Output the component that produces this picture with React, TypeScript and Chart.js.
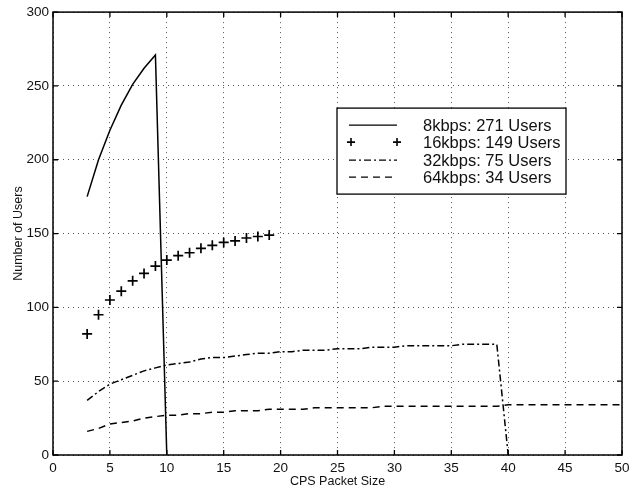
import React, { useEffect, useRef } from "react";
import { Chart, registerables } from "chart.js";

Chart.register(...registerables);

// ---- data ----
const x8 = [3, 4, 5, 6, 7, 8, 9, 10];
const users8 = [175, 200, 220, 237, 251, 262, 271, 0];

const x16 = [3, 4, 5, 6, 7, 8, 9, 10, 11, 12, 13, 14, 15, 16, 17, 18, 19];
const users16 = [82, 95, 105, 111, 118, 123, 128, 132, 135, 137, 140, 142, 144, 145, 147, 148, 149];

const x32 = [3, 4, 5, 6, 7, 8, 9, 10, 11, 12, 13, 14, 15, 16, 17, 18, 19, 20, 21, 22, 23, 24, 25, 26, 27, 28, 29, 30, 31, 32, 33, 34, 35, 36, 37, 38, 39, 40];
const users32 = [37, 43, 48, 51, 54, 57, 59, 61, 62, 63, 65, 66, 66, 67, 68, 69, 69, 70, 70, 71, 71, 71, 72, 72, 72, 73, 73, 73, 74, 74, 74, 74, 74, 75, 75, 75, 75, 0];

const x64 = [3, 4, 5, 6, 7, 8, 9, 10, 11, 12, 13, 14, 15, 16, 17, 18, 19, 20, 21, 22, 23, 24, 25, 26, 27, 28, 29, 30, 31, 32, 33, 34, 35, 36, 37, 38, 39, 40, 41, 42, 43, 44, 45, 46, 47, 48, 49, 50];
const users64 = [16, 18, 21, 22, 23, 25, 26, 27, 27, 28, 28, 29, 29, 30, 30, 30, 31, 31, 31, 31, 32, 32, 32, 32, 32, 32, 33, 33, 33, 33, 33, 33, 33, 33, 33, 33, 33, 34, 34, 34, 34, 34, 34, 34, 34, 34, 34, 34];

const legendLabels = ["8kbps: 271 Users", "16kbps: 149 Users", "32kbps: 75 Users", "64kbps: 34 Users"];
const xTicks = [0, 5, 10, 15, 20, 25, 30, 35, 40, 45, 50];
const yTicks = [0, 50, 100, 150, 200, 250, 300];

const FONT = "'Liberation Sans', Arial, Helvetica, sans-serif";

const pts = (xs: number[], ys: number[]) => xs.map((x, i) => ({ x, y: ys[i] }));

const framePlugin = {
  id: "frame",
  afterDatasetsDraw(chart: any) {
    const { ctx, chartArea: a, scales } = chart;
    ctx.save();
    ctx.strokeStyle = "#000";
    ctx.lineWidth = 1.5;
    ctx.setLineDash([]);
    ctx.strokeRect(a.left, a.top, a.right - a.left, a.bottom - a.top);
    ctx.lineWidth = 1.3;
    const L = 5;
    ctx.beginPath();
    xTicks.forEach((v) => {
      const px = scales.x.getPixelForValue(v);
      ctx.moveTo(px, a.bottom);
      ctx.lineTo(px, a.bottom - L);
      ctx.moveTo(px, a.top);
      ctx.lineTo(px, a.top + L);
    });
    yTicks.forEach((v) => {
      const py = scales.y.getPixelForValue(v);
      ctx.moveTo(a.left, py);
      ctx.lineTo(a.left + L, py);
      ctx.moveTo(a.right, py);
      ctx.lineTo(a.right - L, py);
    });
    ctx.stroke();

    // legend box
    const bx = a.left + 284;
    const by = a.top + 96;
    const bw = 229;
    const bh = 86;
    ctx.fillStyle = "#fff";
    ctx.fillRect(bx, by, bw, bh);
    ctx.lineWidth = 1.3;
    ctx.strokeStyle = "#000";
    ctx.strokeRect(bx, by, bw, bh);
    const rowY = [17, 34, 52, 69];
    const dashes = [[], [], [7, 3, 2, 3], [7, 5]];
    ctx.font = `16.5px ${FONT}`;
    ctx.textBaseline = "middle";
    ctx.textAlign = "left";
    rowY.forEach((ry, i) => {
      const y = by + ry;
      ctx.lineWidth = 1.4;
      if (i === 1) {
        [bx + 14, bx + 60].forEach((cx) => {
          ctx.beginPath();
          ctx.setLineDash([]);
          ctx.moveTo(cx - 4, y);
          ctx.lineTo(cx + 4, y);
          ctx.moveTo(cx, y - 4);
          ctx.lineTo(cx, y + 4);
          ctx.lineWidth = 1.6;
          ctx.stroke();
        });
      } else {
        ctx.beginPath();
        ctx.setLineDash(dashes[i]);
        ctx.moveTo(bx + 12, y);
        ctx.lineTo(bx + 60, y);
        ctx.stroke();
        ctx.setLineDash([]);
      }
      ctx.fillStyle = "#111";
      ctx.fillText(legendLabels[i], bx + 86, y + 1);
    });
    ctx.restore();
  },
};

export default function App() {
  const ref = useRef<HTMLCanvasElement>(null);
  useEffect(() => {
    if (!ref.current) return;
    const chart = new Chart(ref.current, {
      type: "line",
      data: {
        datasets: [
          {
            label: legendLabels[0],
            data: pts(x8, users8),
            borderColor: "#000",
            borderWidth: 1.5,
            pointRadius: 0,
            tension: 0,
          },
          {
            label: legendLabels[1],
            data: pts(x16, users16),
            showLine: false,
            borderColor: "#000",
            pointStyle: "cross",
            pointRadius: 5,
            pointBorderWidth: 1.7,
            pointBorderColor: "#000",
          },
          {
            label: legendLabels[2],
            data: pts(x32, users32),
            borderColor: "#000",
            borderWidth: 1.5,
            borderDash: [7, 3, 2, 3],
            pointRadius: 0,
            tension: 0,
          },
          {
            label: legendLabels[3],
            data: pts(x64, users64),
            borderColor: "#000",
            borderWidth: 1.5,
            borderDash: [7, 5],
            pointRadius: 0,
            tension: 0,
          },
        ],
      },
      options: {
        animation: false,
        responsive: true,
        maintainAspectRatio: false,
        layout: { padding: { left: 0, top: 8, right: 14, bottom: 0 } },
        plugins: { legend: { display: false }, tooltip: { enabled: false } },
        scales: {
          x: {
            type: "linear",
            min: 0,
            max: 50,
            afterFit: (s: any) => {
              s.height = 38;
            },
            afterBuildTicks: (s: any) => {
              s.ticks = xTicks.map((v) => ({ value: v }));
            },
            grid: { color: "#555", lineWidth: 1, drawTicks: false },
            border: { display: false, dash: [1, 4] },
            ticks: {
              color: "#111",
              padding: 5,
              font: { family: FONT, size: 13.5 },
              maxRotation: 0,
            },
            title: {
              display: true,
              text: "CPS Packet Size",
              color: "#111",
              font: { family: FONT, size: 12.5 },
              padding: { top: 0, bottom: 4 },
            },
          },
          y: {
            type: "linear",
            min: 0,
            max: 300,
            afterFit: (s: any) => {
              s.width = 53;
            },
            afterBuildTicks: (s: any) => {
              s.ticks = yTicks.map((v) => ({ value: v }));
            },
            grid: { color: "#555", lineWidth: 1, drawTicks: false },
            border: { display: false, dash: [1, 4] },
            ticks: {
              color: "#111",
              padding: 4,
              font: { family: FONT, size: 13.5 },
            },
            title: {
              display: true,
              text: "Number of Users",
              color: "#111",
              font: { family: FONT, size: 12.5 },
              padding: { top: 11, bottom: 0 },
            },
          },
        },
      },
      plugins: [framePlugin],
    } as any);
    return () => chart.destroy();
  }, []);
  return (
    <div style={{ position: "fixed", left: 0, top: 0, width: 636, height: 493, background: "#fff" }}>
      <canvas ref={ref} />
    </div>
  );
}
